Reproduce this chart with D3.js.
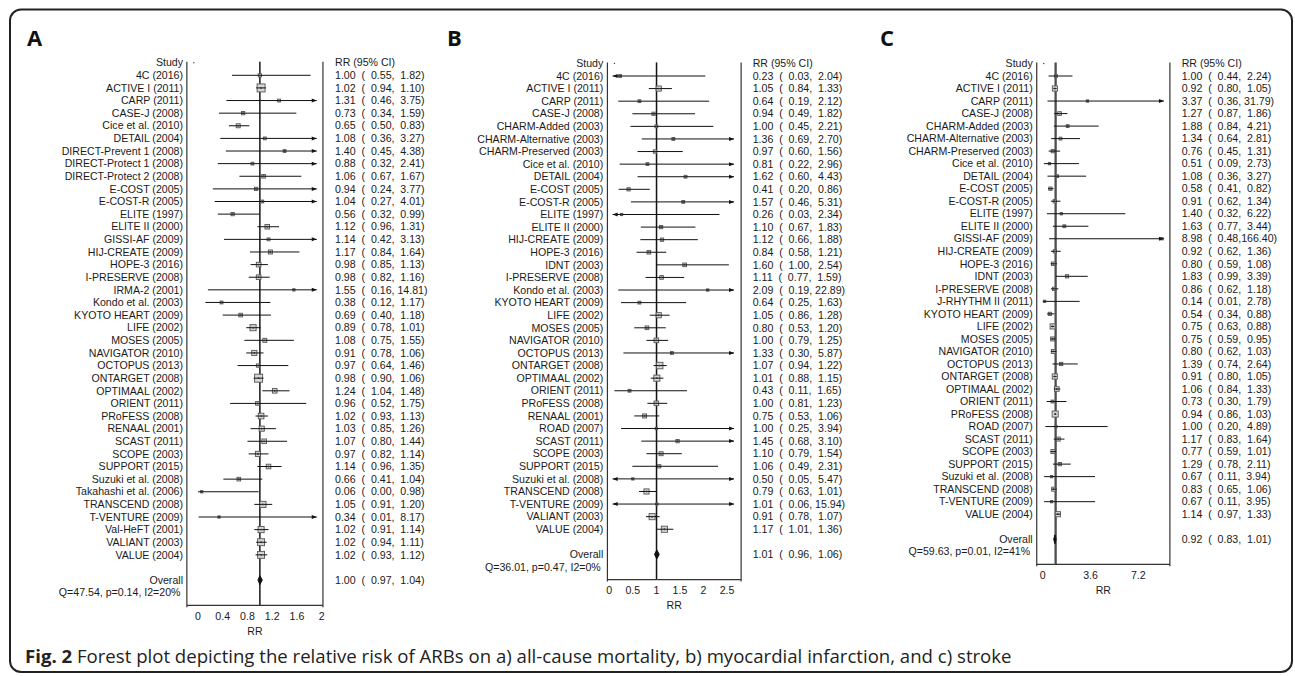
<!DOCTYPE html>
<html>
<head>
<meta charset="utf-8">
<script src="https://cdn.jsdelivr.net/npm/d3@7"></script>
<style>
  body { margin: 0; background: #fff; }
  svg text { font-family: "Liberation Sans", Arial, sans-serif; fill: #1a1a1a; }
</style>
</head>
<body>
<div id="container"></div>
<script>
// ---- panel A: all-cause mortality ----
const studiesA = ["4C (2016)", "ACTIVE I (2011)", "CARP (2011)", "CASE-J (2008)", "Cice et al. (2010)", "DETAIL (2004)",
  "DIRECT-Prevent 1 (2008)", "DIRECT-Protect 1 (2008)", "DIRECT-Protect 2 (2008)", "E-COST (2005)", "E-COST-R (2005)",
  "ELITE (1997)", "ELITE II (2000)", "GISSI-AF (2009)", "HIJ-CREATE (2009)", "HOPE-3 (2016)", "I-PRESERVE (2008)",
  "IRMA-2 (2001)", "Kondo et al. (2003)", "KYOTO HEART (2009)", "LIFE (2002)", "MOSES (2005)", "NAVIGATOR (2010)",
  "OCTOPUS (2013)", "ONTARGET (2008)", "OPTIMAAL (2002)", "ORIENT (2011)", "PRoFESS (2008)", "RENAAL (2001)",
  "SCAST (2011)", "SCOPE (2003)", "SUPPORT (2015)", "Suzuki et al. (2008)", "Takahashi et al. (2006)",
  "TRANSCEND (2008)", "T-VENTURE (2009)", "Val-HeFT (2001)", "VALIANT (2003)", "VALUE (2004)"];
const rrA = [1.00, 1.02, 1.31, 0.73, 0.65, 1.08, 1.40, 0.88, 1.06, 0.94, 1.04, 0.56, 1.12, 1.14, 1.17, 0.98, 0.98,
  1.55, 0.38, 0.69, 0.89, 1.08, 0.91, 0.97, 0.98, 1.24, 0.96, 1.02, 1.03, 1.07, 0.97, 1.14, 0.66, 0.06, 1.05, 0.34,
  1.02, 1.02, 1.02];
const loA = [0.55, 0.94, 0.46, 0.34, 0.50, 0.36, 0.45, 0.32, 0.67, 0.24, 0.27, 0.32, 0.96, 0.42, 0.84, 0.85, 0.82,
  0.16, 0.12, 0.40, 0.78, 0.75, 0.78, 0.64, 0.90, 1.04, 0.52, 0.93, 0.85, 0.80, 0.82, 0.96, 0.41, 0.00, 0.91, 0.01,
  0.91, 0.94, 0.93];
const hiA = [1.82, 1.10, 3.75, 1.59, 0.83, 3.27, 4.38, 2.41, 1.67, 3.77, 4.01, 0.99, 1.31, 3.13, 1.64, 1.13, 1.16,
  14.81, 1.17, 1.18, 1.01, 1.55, 1.06, 1.46, 1.06, 1.48, 1.75, 1.13, 1.26, 1.44, 1.14, 1.35, 1.04, 0.98, 1.20, 8.17,
  1.14, 1.11, 1.12];
const wtA = [2, 12, 1.5, 2, 3, 1.5, 1.5, 1.5, 2.5, 2, 1.5, 2, 4, 1.5, 3, 4, 4, 1, 1.5, 2.5, 7, 3, 5, 2, 12, 4, 2.5,
  6, 5, 4, 5, 4, 2.5, 1, 7, 1, 7, 9, 9];
const overallA = [1.00, 0.97, 1.04];
const hetA = "Q=47.54, p=0.14, I2=20%";
const ticksA = [0, 0.4, 0.8, 1.2, 1.6, 2];

// ---- panel B: myocardial infarction ----
const studiesB = ["4C (2016)", "ACTIVE I (2011)", "CARP (2011)", "CASE-J (2008)", "CHARM-Added (2003)",
  "CHARM-Alternative (2003)", "CHARM-Preserved (2003)", "Cice et al. (2010)", "DETAIL (2004)", "E-COST (2005)",
  "E-COST-R (2005)", "ELITE (1997)", "ELITE II (2000)", "HIJ-CREATE (2009)", "HOPE-3 (2016)", "IDNT (2003)",
  "I-PRESERVE (2008)", "Kondo et al. (2003)", "KYOTO HEART (2009)", "LIFE (2002)", "MOSES (2005)",
  "NAVIGATOR (2010)", "OCTOPUS (2013)", "ONTARGET (2008)", "OPTIMAAL (2002)", "ORIENT (2011)", "PRoFESS (2008)",
  "RENAAL (2001)", "ROAD (2007)", "SCAST (2011)", "SCOPE (2003)", "SUPPORT (2015)", "Suzuki et al. (2008)",
  "TRANSCEND (2008)", "T-VENTURE (2009)", "VALIANT (2003)", "VALUE (2004)"];
const rrB = [0.23, 1.05, 0.64, 0.94, 1.00, 1.36, 0.97, 0.81, 1.62, 0.41, 1.57, 0.26, 1.10, 1.12, 0.84, 1.60, 1.11,
  2.09, 0.64, 1.05, 0.80, 1.00, 1.33, 1.07, 1.01, 0.43, 1.00, 0.75, 1.00, 1.45, 1.10, 1.06, 0.50, 0.79, 1.01, 0.91,
  1.17];
const loB = [0.03, 0.84, 0.19, 0.49, 0.45, 0.69, 0.60, 0.22, 0.60, 0.20, 0.46, 0.03, 0.67, 0.66, 0.58, 1.00, 0.77,
  0.19, 0.25, 0.86, 0.53, 0.79, 0.30, 0.94, 0.88, 0.11, 0.81, 0.53, 0.25, 0.68, 0.79, 0.49, 0.05, 0.63, 0.06, 0.78,
  1.01];
const hiB = [2.04, 1.33, 2.12, 1.82, 2.21, 2.70, 1.56, 2.96, 4.43, 0.86, 5.31, 2.34, 1.83, 1.88, 1.21, 2.54, 1.59,
  22.89, 1.63, 1.28, 1.20, 1.25, 5.87, 1.22, 1.15, 1.65, 1.23, 1.06, 3.94, 3.10, 1.54, 2.31, 5.47, 1.01, 15.94,
  1.07, 1.36];
const wtB = [1.5, 5, 1.5, 2, 1.5, 1.5, 2, 1.5, 1.5, 2, 1.5, 1, 2, 2, 2.5, 2.5, 2.5, 1, 1.5, 5, 2.5, 4, 1.5, 8, 7,
  1.5, 4, 3, 1, 2, 3, 2, 1, 5, 1, 7, 7];
const overallB = [1.01, 0.96, 1.06];
const hetB = "Q=36.01, p=0.47, I2=0%";
const ticksB = [0, 0.5, 1, 1.5, 2, 2.5];

// ---- panel C: stroke ----
const studiesC = ["4C (2016)", "ACTIVE I (2011)", "CARP (2011)", "CASE-J (2008)", "CHARM-Added (2003)",
  "CHARM-Alternative (2003)", "CHARM-Preserved (2003)", "Cice et al. (2010)", "DETAIL (2004)", "E-COST (2005)",
  "E-COST-R (2005)", "ELITE (1997)", "ELITE II (2000)", "GISSI-AF (2009)", "HIJ-CREATE (2009)", "HOPE-3 (2016)",
  "IDNT (2003)", "I-PRESERVE (2008)", "J-RHYTHM II (2011)", "KYOTO HEART (2009)", "LIFE (2002)", "MOSES (2005)",
  "NAVIGATOR (2010)", "OCTOPUS (2013)", "ONTARGET (2008)", "OPTIMAAL (2002)", "ORIENT (2011)", "PRoFESS (2008)",
  "ROAD (2007)", "SCAST (2011)", "SCOPE (2003)", "SUPPORT (2015)", "Suzuki et al. (2008)", "TRANSCEND (2008)",
  "T-VENTURE (2009)", "VALUE (2004)"];
const rrC = [1.00, 0.92, 3.37, 1.27, 1.88, 1.34, 0.76, 0.51, 1.08, 0.58, 0.91, 1.40, 1.63, 8.98, 0.92, 0.80, 1.83,
  0.86, 0.14, 0.54, 0.75, 0.75, 0.80, 1.39, 0.91, 1.06, 0.73, 0.94, 1.00, 1.17, 0.77, 1.29, 0.67, 0.83, 0.67, 1.14];
const loC = [0.44, 0.80, 0.36, 0.87, 0.84, 0.64, 0.45, 0.09, 0.36, 0.41, 0.62, 0.32, 0.77, 0.48, 0.62, 0.59, 0.99,
  0.62, 0.01, 0.34, 0.63, 0.59, 0.62, 0.74, 0.80, 0.84, 0.30, 0.86, 0.20, 0.83, 0.59, 0.78, 0.11, 0.65, 0.11, 0.97];
const hiC = [2.24, 1.05, 31.79, 1.86, 4.21, 2.81, 1.31, 2.73, 3.27, 0.82, 1.34, 6.22, 3.44, 166.40, 1.36, 1.08, 3.39,
  1.18, 2.78, 0.88, 0.88, 0.95, 1.03, 2.64, 1.05, 1.33, 1.79, 1.03, 4.89, 1.64, 1.01, 2.11, 3.94, 1.06, 3.95, 1.33];
const wtC = [1.5, 5, 1, 2.5, 1.5, 1.5, 2, 1, 1.5, 2, 2, 1, 1.5, 1, 2, 2.5, 2, 2, 1, 2, 5, 3, 3, 2, 5, 4, 1.5, 7, 1,
  3, 3, 2, 1, 3, 1, 5];
const overallC = [0.92, 0.83, 1.01];
const hetC = "Q=59.63, p=0.01, I2=41%";
const ticksC = [0, 3.6, 7.2];

const width = 1295, height = 676;
const fs = "10.6px";

const svg = d3.select("#container")
    .append("svg")
    .attr("width", width)
    .attr("height", height);

// outer frame of the figure
svg.append("rect")
    .attr("x", 10).attr("y", 9.5)
    .attr("width", 1282).attr("height", 662.5)
    .attr("rx", 11)
    .attr("fill", "none")
    .attr("stroke", "#222")
    .attr("stroke-width", 2);

const fmt = v => v.toFixed(2);

function drawPanel(p) {
    const g = svg.append("g");
    const n = p.studies.length;

    const x = d3.scaleLinear().domain(p.domain).range(p.range);
    const y = d3.scaleLinear().domain([0, 1]).range([p.row0, p.row0 + p.step]);

    const frameTop = y(-1) - 1;
    const frameBot = y(n + 3);
    const fl = x(p.frame[0]), fr = x(p.frame[1]);

    // panel letter
    g.append("text")
        .attr("x", p.letterX).attr("y", 46)
        .style("font-family", "'Open Sans', 'Liberation Sans', sans-serif")
        .style("font-weight", "bold")
        .style("font-size", "22px")
        .style("fill", "#111")
        .text(p.letter);

    // frame: left, bottom, right
    g.append("path")
        .attr("d", `M${fl},${frameTop}V${frameBot + 2}M${fl},${frameBot}H${fr}M${fr},${frameTop}V${frameBot + 2}`)
        .attr("fill", "none")
        .attr("stroke", "#333")
        .attr("stroke-width", 1.2);

    g.append("circle")
        .attr("cx", fl + 7).attr("cy", y(-1)).attr("r", 0.7).attr("fill", "#444");

    // overall and null lines
    g.append("line")
        .attr("x1", x(p.overall[0])).attr("x2", x(p.overall[0]))
        .attr("y1", frameTop).attr("y2", frameBot)
        .attr("stroke", "#888").attr("stroke-width", 1.4);
    g.append("line")
        .attr("x1", x(1)).attr("x2", x(1))
        .attr("y1", frameTop).attr("y2", frameBot)
        .attr("stroke", "#111").attr("stroke-width", 1.2);

    // axis tick labels
    g.selectAll(".tick")
        .data(p.ticks)
        .join("text")
        .attr("x", d => x(d))
        .attr("y", frameBot + 11)
        .attr("dy", "0.35em")
        .attr("text-anchor", "middle")
        .style("font-size", fs)
        .text(d => String(d));
    g.append("text")
        .attr("x", (fl + fr) / 2)
        .attr("y", frameBot + 26)
        .attr("dy", "0.35em")
        .attr("text-anchor", "middle")
        .style("font-size", fs)
        .text("RR");

    // headers
    g.append("text")
        .attr("x", p.labelRight).attr("y", y(-1)).attr("dy", "0.35em")
        .attr("text-anchor", "end").style("font-size", fs).text("Study");
    g.append("text")
        .attr("x", p.valueLeft).attr("y", y(-1)).attr("dy", "0.35em")
        .style("font-size", fs).text("RR (95% CI)");

    const rows = p.studies.map((s, i) => ({
        name: s, rr: p.rr[i], lo: p.lo[i], hi: p.hi[i], w: p.wt[i], i
    }));

    g.selectAll(".lab")
        .data(rows)
        .join("text")
        .attr("x", p.labelRight)
        .attr("y", d => y(d.i))
        .attr("dy", "0.35em")
        .attr("text-anchor", "end")
        .style("font-size", fs)
        .text(d => d.name);

    g.selectAll(".val")
        .data(rows)
        .join("text")
        .attr("x", p.valueLeft)
        .attr("y", d => y(d.i))
        .attr("dy", "0.35em")
        .style("font-size", fs)
        .style("white-space", "pre")
        .text(d => `${fmt(d.rr)}  (  ${fmt(d.lo)},${fmt(d.hi).padStart(6)})`);

    // weight boxes
    const size = d3.scaleSqrt().domain([0, 12]).range([0, 8]);
    g.selectAll(".box")
        .data(rows)
        .join("rect")
        .attr("x", d => x(d.rr) - size(d.w) / 2)
        .attr("y", d => y(d.i) - size(d.w) / 2)
        .attr("width", d => size(d.w))
        .attr("height", d => size(d.w))
        .attr("fill", "#d6d6d6")
        .attr("stroke", "#555")
        .attr("stroke-width", 0.9);

    // confidence intervals, clipped with arrows
    const ci = g.selectAll(".ci")
        .data(rows)
        .join("g");
    ci.append("line")
        .attr("x1", d => x(Math.max(d.lo, p.clip[0])))
        .attr("x2", d => x(Math.min(d.hi, p.clip[1])))
        .attr("y1", d => y(d.i))
        .attr("y2", d => y(d.i))
        .attr("stroke", "#111")
        .attr("stroke-width", 1);
    ci.filter(d => d.hi > p.clip[1])
        .append("path")
        .attr("d", d => {
            const ax = x(p.clip[1]), ay = y(d.i);
            return `M${ax},${ay}L${ax - 5},${ay - 2}L${ax - 5},${ay + 2}Z`;
        })
        .attr("fill", "#111");
    ci.filter(d => d.lo < p.clip[0])
        .append("path")
        .attr("d", d => {
            const ax = x(p.clip[0]), ay = y(d.i);
            return `M${ax},${ay}L${ax + 5},${ay - 2}L${ax + 5},${ay + 2}Z`;
        })
        .attr("fill", "#111");
    ci.append("circle")
        .attr("cx", d => x(d.rr))
        .attr("cy", d => y(d.i))
        .attr("r", 0.9)
        .attr("fill", "#333");

    // overall diamond
    const oy = y(n + 1);
    const [oe, ol, oh] = p.overall;
    g.append("path")
        .attr("d", `M${x(ol)},${oy}L${x(oe)},${oy - 4.5}L${x(oh)},${oy}L${x(oe)},${oy + 4.5}Z`)
        .attr("fill", "#111")
        .attr("stroke", "#111")
        .attr("stroke-width", 1);
    g.append("text")
        .attr("x", p.labelRight).attr("y", oy).attr("dy", "0.35em")
        .attr("text-anchor", "end").style("font-size", fs).text("Overall");
    g.append("text")
        .attr("x", p.valueLeft).attr("y", oy).attr("dy", "0.35em")
        .style("font-size", fs).style("white-space", "pre")
        .text(`${fmt(oe)}  (  ${fmt(ol)},${fmt(oh).padStart(6)})`);
    g.append("text")
        .attr("x", p.labelRight - 2.5).attr("y", y(n + 2)).attr("dy", "0.35em")
        .attr("text-anchor", "end").style("font-size", fs).text(p.het);
}

drawPanel({
    letter: "A", letterX: 27,
    studies: studiesA, rr: rrA, lo: loA, hi: hiA, wt: wtA, overall: overallA, het: hetA, ticks: ticksA,
    domain: [0, 2], range: [198, 321.7], frame: [-0.18, 2.02], clip: [-1, 1.92],
    labelRight: 183, valueLeft: 335, row0: 75.3, step: 12.62
});
drawPanel({
    letter: "B", letterX: 447,
    studies: studiesB, rr: rrB, lo: loB, hi: hiB, wt: wtB, overall: overallB, het: hetB, ticks: ticksB,
    domain: [0, 2.5], range: [609.3, 727], frame: [-0.04, 2.8], clip: [0.07, 2.65],
    labelRight: 603.3, valueLeft: 752.7, row0: 76, step: 12.59
});
drawPanel({
    letter: "C", letterX: 880,
    studies: studiesC, rr: rrC, lo: loC, hi: hiC, wt: wtC, overall: overallC, het: hetC, ticks: ticksC,
    domain: [0, 7.2], range: [1042.7, 1138.3], frame: [-0.45, 9.58], clip: [-1, 9.13],
    labelRight: 1032.7, valueLeft: 1181.7, row0: 76, step: 12.52
});

// caption
const cap = svg.append("text")
    .attr("x", 25).attr("y", 663)
    .style("font-family", "'Open Sans', 'Liberation Sans', sans-serif")
    .style("font-size", "18.6px")
    .style("fill", "#222");
cap.append("tspan").style("font-weight", "bold").text("Fig. 2");
cap.append("tspan").text(" Forest plot depicting the relative risk of ARBs on a) all-cause mortality, b) myocardial infarction, and c) stroke");
</script>
</body>
</html>
